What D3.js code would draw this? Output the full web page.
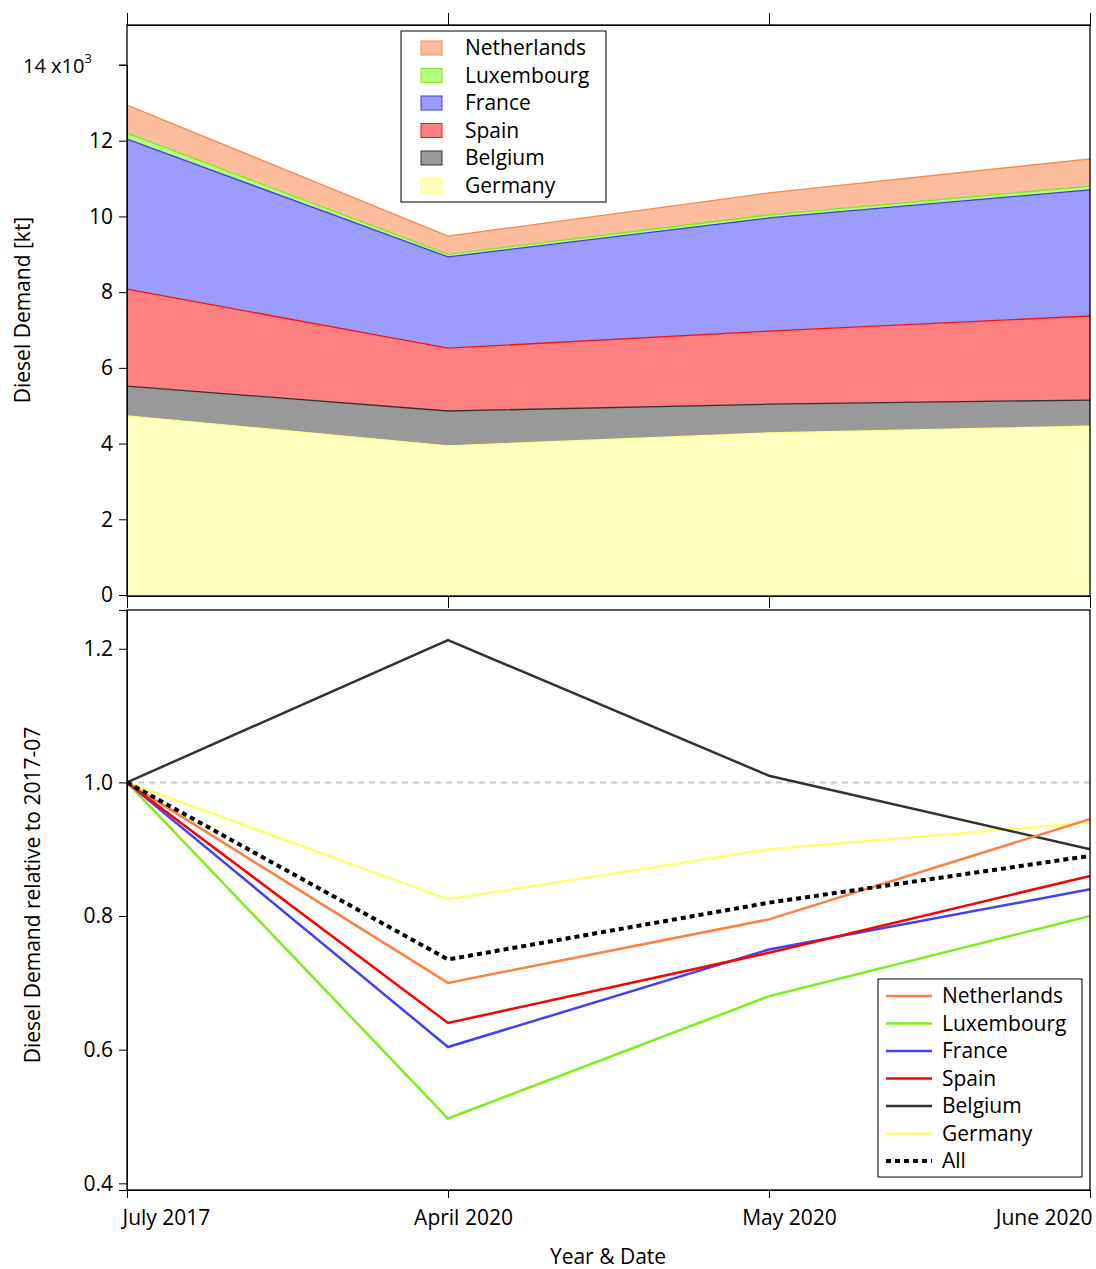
<!DOCTYPE html>
<html><head><meta charset="utf-8">
<script src="https://cdn.jsdelivr.net/npm/d3@7"></script>
<style>body{margin:0;background:#fff}text{font-family:"Open Sans","Liberation Sans",Arial,sans-serif}</style>
</head><body><svg id="c" width="1096" height="1269"></svg>
<script>
// Data
const dates = ["July 2017", "April 2020", "May 2020", "June 2020"];
const countries = ["Germany", "Belgium", "Spain", "France", "Luxembourg", "Netherlands"];
const demand = {
  Germany:     [4.73, 3.94, 4.28, 4.46],
  Belgium:     [0.79, 0.92, 0.76, 0.69],
  Spain:       [2.56, 1.66, 1.93, 2.22],
  France:      [3.96, 2.41, 2.99, 3.33],
  Luxembourg:  [0.16, 0.07, 0.08, 0.10],
  Netherlands: [0.74, 0.48, 0.58, 0.72]
};
const relative = {
  Netherlands: [1, 0.70, 0.795, 0.945],
  Luxembourg:  [1, 0.497, 0.68, 0.80],
  France:      [1, 0.604, 0.75, 0.84],
  Spain:       [1, 0.64, 0.745, 0.86],
  Belgium:     [1, 1.213, 1.01, 0.90],
  Germany:     [1, 0.825, 0.90, 0.94],
  All:         [1, 0.735, 0.82, 0.89]
};
const fills = {Netherlands:"#fdbc9c", Luxembourg:"#b6ff7c", France:"#9c9cff", Spain:"#ff8080", Belgium:"#999999", Germany:"#ffffc0"};
const strokes = {Netherlands:"#f8884c", Luxembourg:"#7ee81e", France:"#3c3cf0", Spain:"#ff1010", Belgium:"#333333", Germany:"#ffff80"};
const lineColors = {Netherlands:"#ff8040", Luxembourg:"#7cf01c", France:"#4040ff", Spain:"#ff0000", Belgium:"#333333", Germany:"#ffff70", All:"#000"};

const svg = d3.select('#c');
const x = d3.scalePoint().domain(dates).range([127, 1090]);

// Top panel: stacked areas
const yTop = d3.scaleLinear().domain([0, 14.0]).range([595, 65]);
const topG = svg.append('g');
const table = dates.map((d, i) => { const o = {date: d}; countries.forEach(c => o[c] = demand[c][i]); return o; });
const stack = d3.stack().keys(countries)(table);
const area = d3.area().x(d => x(d.data.date)).y0(d => yTop(d[0])).y1(d => yTop(d[1]));
const line = d3.line().x(d => x(d.data.date)).y(d => yTop(d[1]));
stack.forEach(s => {
  topG.append('path').attr('d', area(s)).attr('fill', fills[s.key]);
});
stack.forEach(s => {
  topG.append('path').attr('d', line(s)).attr('fill', 'none').attr('stroke', strokes[s.key]).attr('stroke-width', 1.3);
});
topG.append('rect').attr('x', 127).attr('y', 25).attr('width', 963).attr('height', 571).attr('fill', 'none').attr('stroke', '#000').attr('stroke-width', 1.3);
const yAxTop = topG.append('g').attr('transform', 'translate(127,0)')
  .call(d3.axisLeft(yTop).tickValues([0, 2, 4, 6, 8, 10, 12]).tickSize(8).tickPadding(6).tickFormat(d3.format('d')));
yAxTop.append('line').attr('x1', 0).attr('x2', -8).attr('y1', yTop(14)).attr('y2', yTop(14)).attr('stroke', '#000');
yAxTop.append('text').attr('x', -104).attr('y', yTop(14) + 8).attr('fill', '#000').attr('text-anchor', 'start').style('font-size', '20px')
  .html('14 x10<tspan dy="-10" font-size="13">3</tspan>');
topG.append('g').attr('transform', 'translate(0,25)').call(d3.axisTop(x).tickSize(12).tickFormat(''));
topG.append('g').attr('transform', 'translate(0,596)').call(d3.axisBottom(x).tickSize(12).tickFormat(''));
topG.append('text').attr('transform', 'translate(30,310) rotate(-90)').attr('text-anchor', 'middle').style('font-size', '21px').text('Diesel Demand [kt]');

// Top legend
const lg = topG.append('g').attr('transform', 'translate(401,31)');
lg.append('rect').attr('width', 205).attr('height', 171).attr('fill', '#fff').attr('stroke', '#000');
countries.slice().reverse().forEach((c, i) => {
  const g = lg.append('g').attr('transform', `translate(20,${18 + i * 27.5})`);
  g.append('rect').attr('x', 0).attr('y', -8).attr('width', 21).attr('height', 14).attr('fill', fills[c]).attr('stroke', strokes[c]);
  g.append('text').attr('x', 44).attr('y', 6).style('font-size', '21px').text(c);
});

// Bottom panel: relative lines
const yBot = d3.scaleLinear().domain([0.39, 1.258]).range([1190, 610]);
const bot = svg.append('g');
bot.append('line').attr('x1', 127).attr('x2', 1090).attr('y1', yBot(1)).attr('y2', yBot(1))
  .attr('stroke', '#c8c8c8').attr('stroke-width', 2).attr('stroke-dasharray', '6,5');
const rl = d3.line().x((d, i) => x(dates[i])).y(d => yBot(d));
const order = ["Germany", "Belgium", "Netherlands", "Luxembourg", "France", "Spain", "All"];
order.forEach(c => {
  bot.append('path').attr('d', rl(relative[c])).attr('fill', 'none').attr('stroke', lineColors[c])
    .attr('stroke-width', c === 'All' ? 4 : 2.5).attr('stroke-dasharray', c === 'All' ? '5,4' : null);
});
bot.append('rect').attr('x', 127).attr('y', 610).attr('width', 963).attr('height', 580).attr('fill', 'none').attr('stroke', '#000').attr('stroke-width', 1.3);
const yAxBot = bot.append('g').attr('transform', 'translate(127,0)')
  .call(d3.axisLeft(yBot).tickValues([0.4, 0.6, 0.8, 1.0, 1.2]).tickSize(8).tickPadding(6).tickFormat(d3.format('.1f')));
bot.append('text').attr('transform', 'translate(40,895) rotate(-90)').attr('text-anchor', 'middle').style('font-size', '21px').text('Diesel Demand relative to 2017-07');
const xAx = bot.append('g').attr('transform', 'translate(0,1190)').call(d3.axisBottom(x).tickSize(8).tickPadding(12));
svg.selectAll('.domain').attr('stroke', '#000');
svg.selectAll('.tick text').attr('fill', '#000').style('font-size', '21px');
xAx.selectAll('text')
  .attr('text-anchor', (d, i) => i === 0 ? 'start' : i === 3 ? 'end' : 'middle')
  .attr('dx', (d, i) => i === 0 ? -5 : i === 1 ? 15 : i === 2 ? 20 : 2);
bot.append('text').attr('x', 608).attr('y', 1264).attr('text-anchor', 'middle').style('font-size', '21px').text('Year & Date');

// Bottom legend
const lg2 = bot.append('g').attr('transform', 'translate(878,979)');
lg2.append('rect').attr('width', 204).attr('height', 198).attr('fill', '#fff').attr('stroke', '#000');
const legOrder = ["Netherlands", "Luxembourg", "France", "Spain", "Belgium", "Germany", "All"];
legOrder.forEach((c, i) => {
  const g = lg2.append('g').attr('transform', `translate(8,${17 + i * 27.5})`);
  g.append('line').attr('x1', 0).attr('x2', 46).attr('stroke', lineColors[c])
    .attr('stroke-width', c === 'All' ? 4 : 2.5).attr('stroke-dasharray', c === 'All' ? '5,4' : null);
  g.append('text').attr('x', 56).attr('y', 7).style('font-size', '21px').text(c);
});
</script></body></html>
